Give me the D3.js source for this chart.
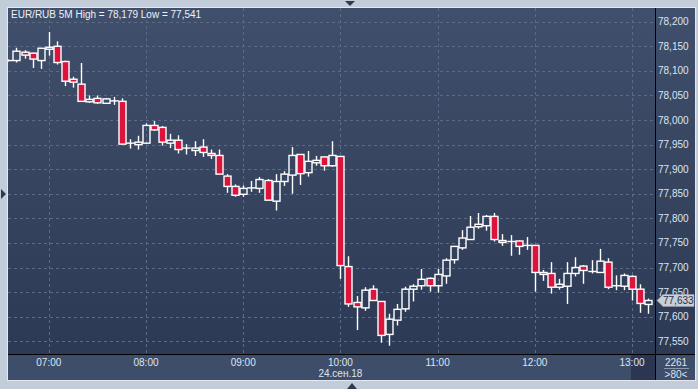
<!DOCTYPE html>
<html><head><meta charset="utf-8">
<script src="https://cdn.jsdelivr.net/npm/d3@7/dist/d3.min.js"></script>
<style>html,body{margin:0;padding:0;background:#c3ccd9;}svg{display:block;}</style>
</head><body>
<svg id="c" width="698" height="389"></svg>
<script>
// ---- data (EUR/RUB 5M, 24.09.18) ----
const startTime = "2018-09-24T06:35:00";
const open  = [78.121,78.121,78.138,78.136,78.121,78.144,78.150,78.119,78.083,78.073,
               78.037,78.044,78.034,78.039,78.038,77.953,77.950,77.953,77.989,77.985,
               77.953,77.959,77.943,77.938,77.945,77.932,77.928,77.886,77.865,77.849,
               77.862,77.861,77.877,77.835,77.875,77.888,77.930,77.893,77.913,77.925,
               77.907,77.926,77.702,77.629,77.618,77.656,77.631,77.564,77.593,77.616,
               77.656,77.663,77.678,77.663,77.683,77.716,77.740,77.757,77.783,77.785,
               77.804,77.755,77.753,77.754,77.745,77.745,77.690,77.688,77.660,77.662,
               77.688,77.703,77.692,77.690,77.711,77.663,77.662,77.682,77.656,77.625];
const high  = [78.123,78.147,78.142,78.137,78.146,78.179,78.160,78.121,78.088,78.116,
               78.050,78.050,78.045,78.047,78.044,77.961,77.968,77.993,77.998,77.988,
               77.972,77.969,77.951,77.957,77.961,77.940,77.940,77.890,77.869,77.867,
               77.876,77.884,77.880,77.890,77.896,77.945,77.931,77.937,77.927,77.926,
               77.957,77.926,77.723,77.642,77.660,77.664,77.632,77.606,77.626,77.661,
               77.666,77.697,77.680,77.697,77.719,77.744,77.776,77.805,77.811,77.807,
               77.811,77.768,77.766,77.755,77.762,77.746,77.695,77.711,77.677,77.711,
               77.721,77.705,77.715,77.738,77.719,77.684,77.688,77.684,77.666,77.637];
const low   = [78.119,78.117,78.125,78.106,78.104,78.131,78.113,78.069,78.066,78.038,
               78.035,78.033,78.033,78.031,77.951,77.942,77.940,77.951,77.978,77.948,
               77.943,77.932,77.930,77.927,77.925,77.921,77.890,77.852,77.844,77.844,
               77.854,77.852,77.837,77.816,77.866,77.850,77.868,77.885,77.907,77.897,
               77.905,77.677,77.620,77.573,77.612,77.633,77.547,77.541,77.582,77.610,
               77.631,77.655,77.651,77.649,77.667,77.708,77.736,77.757,77.779,77.775,
               77.753,77.744,77.724,77.726,77.736,77.651,77.673,77.647,77.655,77.626,
               77.682,77.667,77.688,77.690,77.656,77.654,77.654,77.633,77.608,77.606];
const close = [78.121,78.140,78.132,78.124,78.146,78.148,78.117,78.079,78.077,78.038,
               78.042,78.035,78.043,78.039,77.951,77.953,77.955,77.989,77.980,77.955,
               77.959,77.940,77.943,77.943,77.934,77.928,77.890,77.865,77.847,77.861,
               77.862,77.879,77.837,77.875,77.890,77.928,77.891,77.916,77.918,77.907,
               77.928,77.704,77.626,77.620,77.654,77.633,77.562,77.595,77.615,77.656,
               77.662,77.676,77.663,77.686,77.715,77.743,77.760,77.782,77.788,77.804,
               77.757,77.751,77.753,77.743,77.745,77.690,77.686,77.660,77.666,77.688,
               77.700,77.694,77.692,77.713,77.660,77.663,77.684,77.656,77.627,77.633];
const yTicks = [77.55,77.60,77.65,77.70,77.75,77.80,77.85,77.90,77.95,78.00,78.05,78.10,78.15,78.20];
const xTickLabels = ["07:00","08:00","09:00","10:00","11:00","12:00","13:00"];
const titleText = "EUR/RUB 5M High = 78,179 Low = 77,541";
const dateLabel = "24.сен.18";
const lastPrice = 77.633;
const barCount = "2261";
const zoomLabel = ">80<";

// ---- layout ----
const svg = d3.select("#c");
const P = {l:8, t:8, r:655, b:354, R:695, B:380};
const t0 = new Date(startTime);
const times = open.map((_, i) => new Date(t0.getTime() + i*5*60000));
const hourTimes = xTickLabels.map(s => new Date("2018-09-24T" + s + ":00"));

const x = d3.scaleTime()
  .domain([t0, hourTimes[hourTimes.length-1]])
  .range([8.3, 632]);
const y = d3.scaleLinear().domain([77.55, 78.20]).range([341.3, 21.7]);

const defs = svg.append("defs");
const g1 = defs.append("linearGradient").attr("id","bg").attr("x1",0).attr("y1",0).attr("x2",0).attr("y2",1);
g1.append("stop").attr("offset","0%").attr("stop-color","#404f6b");
g1.append("stop").attr("offset","100%").attr("stop-color","#2b3853");
defs.append("clipPath").attr("id","clip").append("rect")
  .attr("x",P.l).attr("y",P.t).attr("width",P.r-P.l).attr("height",P.b-P.t);

// outer frame
svg.append("rect").attr("x",0).attr("y",0).attr("width",698).attr("height",389).attr("fill","#c3ccd9");
svg.append("rect").attr("x",P.l-1).attr("y",P.t-1).attr("width",P.R-P.l+2).attr("height",P.B-P.t+2).attr("fill","#e4e9f0");
svg.append("rect").attr("x",P.l).attr("y",P.t).attr("width",P.R-P.l).attr("height",P.B-P.t).attr("fill","url(#bg)");
// bottom axis band
svg.append("rect").attr("x",P.l).attr("y",P.b).attr("width",P.R-P.l).attr("height",P.B-P.b).attr("fill","#3e4d69");
// highlighted current-time band
svg.append("rect").attr("x",x(times[times.length-3]) - 1).attr("y",P.b+1).attr("width",P.r - x(times[times.length-3]) + 1).attr("height",P.B-P.b-1).attr("fill","#2b3752");

// grid
const grid = svg.append("g").attr("stroke","#5b6a86").attr("stroke-width",1).attr("stroke-dasharray","3,3");
grid.selectAll("line.h").data(yTicks).join("line")
  .attr("x1",P.l).attr("x2",P.r).attr("y1",d=>Math.round(y(d))+0.5).attr("y2",d=>Math.round(y(d))+0.5);
grid.selectAll("line.v").data(hourTimes).join("line")
  .attr("y1",P.t).attr("y2",P.b).attr("x1",d=>Math.round(x(d))+0.5).attr("x2",d=>Math.round(x(d))+0.5);

// candles
const cg = svg.append("g").attr("clip-path","url(#clip)");
const bw = 7;
const data = times.map((t,i)=>({t, o:open[i], h:high[i], l:low[i], c:close[i]}));
const cand = cg.selectAll("g.c").data(data).join("g");
cand.append("line")
  .attr("x1",d=>Math.round(x(d.t))+0.5).attr("x2",d=>Math.round(x(d.t))+0.5)
  .attr("y1",d=>y(d.h)).attr("y2",d=>y(Math.max(d.o,d.c)))
  .attr("stroke","#ffffff").attr("stroke-width",1.4);
cand.append("line")
  .attr("x1",d=>Math.round(x(d.t))+0.5).attr("x2",d=>Math.round(x(d.t))+0.5)
  .attr("y1",d=>y(Math.min(d.o,d.c))).attr("y2",d=>y(d.l))
  .attr("stroke","#ffffff").attr("stroke-width",1.4);
cand.append("rect")
  .attr("x",d=>Math.round(x(d.t))+0.5-bw/2).attr("width",bw)
  .attr("y",d=>y(Math.max(d.o,d.c)))
  .attr("height",d=>Math.max(0.01, Math.abs(y(d.o)-y(d.c))))
  .attr("fill",d=>d.c<d.o ? "#dc143c" : "none")
  .attr("stroke","#ffffff").attr("stroke-width",1.4);

// axis lines
svg.append("line").attr("x1",P.r+0.5).attr("x2",P.r+0.5).attr("y1",P.t).attr("y2",P.B).attr("stroke","#000").attr("stroke-width",1);
svg.append("line").attr("x1",P.l).attr("x2",P.R).attr("y1",P.b+0.5).attr("y2",P.b+0.5).attr("stroke","#000").attr("stroke-width",1);

const font = "'Liberation Sans', Arial, sans-serif";
const fmt = d => d3.format(".3f")(d).replace(".", ",");
// right axis labels
svg.append("g").selectAll("text").data(yTicks).join("text")
  .attr("x",658).attr("y",d=>y(d)+3.5)
  .attr("font-family",font).attr("font-size",10).attr("fill","#dbe5f4")
  .text(fmt);

// current price marker
const py = y(lastPrice);
svg.append("path")
  .attr("d",`M657,${py} L663,${py-6} L694,${py-6} L694,${py+6} L663,${py+6} Z`)
  .attr("fill","#c9ced7").attr("stroke","#9aa3b2").attr("stroke-width",0.5);
svg.append("text").attr("x",663).attr("y",py+3.5)
  .attr("font-family",font).attr("font-size",10).attr("fill","#25324a").text(fmt(lastPrice));

// bottom axis labels
svg.append("g").selectAll("text").data(hourTimes).join("text")
  .attr("x",d=>x(d)).attr("y",366).attr("text-anchor","middle")
  .attr("font-family",font).attr("font-size",10).attr("fill","#dbe5f4")
  .text((d,i)=>xTickLabels[i]);
svg.append("text").attr("x",x(hourTimes[3])).attr("y",377).attr("text-anchor","middle")
  .attr("font-family",font).attr("font-size",10).attr("fill","#dbe5f4").text(dateLabel);

// bottom-right info
svg.append("text").attr("x",676).attr("y",366).attr("text-anchor","middle")
  .attr("font-family",font).attr("font-size",10).attr("fill","#dbe5f4").text(barCount);
svg.append("line").attr("x1",664).attr("x2",689).attr("y1",368.5).attr("y2",368.5).attr("stroke","#8a98b0");
svg.append("text").attr("x",676).attr("y",378).attr("text-anchor","middle")
  .attr("font-family",font).attr("font-size",10).attr("fill","#dbe5f4").text(zoomLabel);

// title
svg.append("text").attr("x",11).attr("y",18)
  .attr("font-family",font).attr("font-size",10).attr("fill","#eef2f8").text(titleText);

// frame triangles
svg.append("path").attr("d","M345,1 L355,1 L350,6 Z").attr("fill","#2e3a52");
svg.append("path").attr("d","M1,189 L6,194 L1,199 Z").attr("fill","#2e3a52");
svg.append("path").attr("d","M347,389 L357,389 L352,383 Z").attr("fill","#2e3a52");
</script>
</body></html>
